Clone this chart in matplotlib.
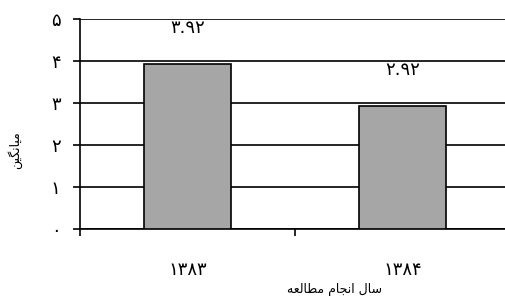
import matplotlib
matplotlib.use("Agg")
import matplotlib.pyplot as plt
from matplotlib.ticker import FixedLocator

plt.rcParams['font.family'] = ['DejaVu Sans']

categories = ["۱۳۸۳", "۱۳۸۴"]
values = [3.92, 2.92]
value_labels = ["۳.۹۲", "۲.۹۲"]
y_ticks = [0, 1, 2, 3, 4, 5]
y_tick_labels = ["۰", "۱", "۲", "۳", "۴", "۵"]
# visual-order presentation forms of "میانگین" and "سال انجام مطالعه"
y_title = "\uFEE6\uFBFF\uFB95\uFEE7\uFE8E\uFBFF\uFEE3"
x_title = "\uFEEA\uFECC\uFEDF\uFE8E\uFEC4\uFEE3 \uFEE1\uFE8E\uFEA0\uFEE7\uFE8D \uFEDD\uFE8E\uFEB3"

fig = plt.figure(figsize=(5.06, 3.00), dpi=100)
ax = fig.add_axes([80/506, 71/300, 426/506, 210/300])

x = list(range(len(categories)))
ax.bar(x, values, width=0.405, color="#A6A6A6", edgecolor="black", linewidth=1.2, zorder=3)

ax.set_xlim(-0.5, -0.5 + 426/215)
ax.set_ylim(0, 5)

ax.set_yticks(y_ticks)
ax.set_yticklabels(y_tick_labels, fontsize=13)
ax.tick_params(axis='y', direction='out', length=5, width=1.2, pad=9, colors='black')
ax.yaxis.grid(True, color='black', linewidth=1.2, zorder=0)
ax.set_axisbelow(True)

ax.xaxis.set_major_locator(FixedLocator([-0.5, 0.5, 1.5]))
ax.xaxis.set_major_formatter(plt.NullFormatter())
ax.xaxis.set_minor_locator(FixedLocator(x))
ax.set_xticklabels(categories, minor=True, fontsize=13)
ax.tick_params(axis='x', which='major', direction='out', length=5, width=1.2)
ax.tick_params(axis='x', which='minor', length=0, pad=23)

for s in ['top', 'right']:
    ax.spines[s].set_visible(False)
for s in ['left', 'bottom']:
    ax.spines[s].set_linewidth(1.2)
    ax.spines[s].set_color('black')

for xi, v, lab in zip(x, values, value_labels):
    ax.annotate(lab, (xi, v), xytext=(0, 26), textcoords='offset points',
                ha='center', va='center', fontsize=13)

fig.text(335/506, 10/300, x_title, ha='center', va='center', fontsize=9)
fig.text(15/506, 150/300, y_title, ha='center', va='center', rotation=90, fontsize=9)

fig.savefig("out.png", dpi=100)
